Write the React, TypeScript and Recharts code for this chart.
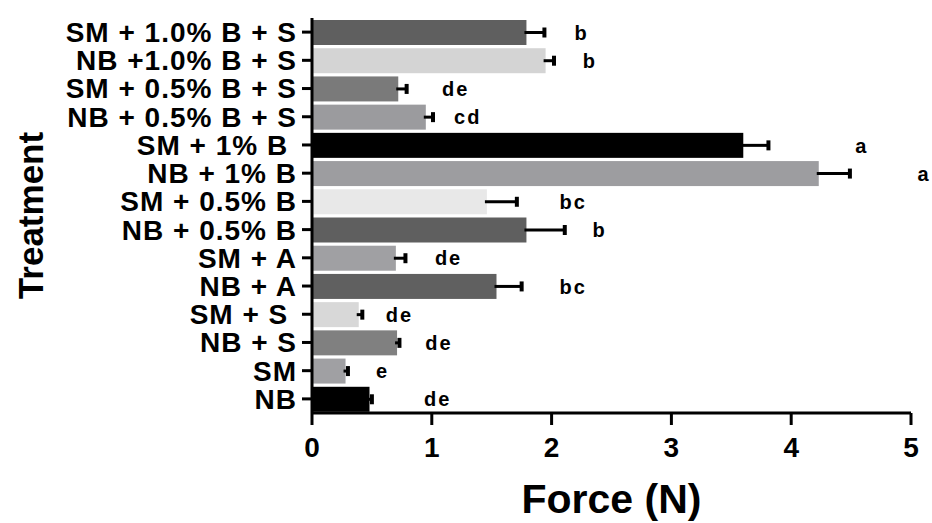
import { BarChart, Bar, XAxis, YAxis, ReferenceDot } from 'recharts';

const treatments = [
  'SM + 1.0% B + S',
  'NB +1.0% B + S',
  'SM + 0.5% B + S',
  'NB + 0.5% B + S',
  'SM + 1% B\u00a0',
  'NB + 1% B',
  'SM + 0.5% B',
  'NB + 0.5% B',
  'SM + A',
  'NB + A',
  'SM + S\u00a0',
  'NB + S',
  'SM',
  'NB',
];
const force = [1.79, 1.95, 0.72, 0.95, 3.6, 4.23, 1.46, 1.79, 0.7, 1.54, 0.39, 0.71, 0.28, 0.48];
const sem = [0.15, 0.07, 0.07, 0.06, 0.21, 0.26, 0.25, 0.32, 0.08, 0.21, 0.03, 0.02, 0.02, 0.02];
const letters = ['b', 'b', 'de', 'cd', 'a', 'a', 'bc', 'b', 'de', 'bc', 'de', 'de', 'e', 'de'];
// where each significance letter sits, in N
const letterX = [2.25, 2.32, 1.2, 1.3, 4.59, 5.11, 2.18, 2.4, 1.14, 2.18, 0.73, 1.06, 0.59, 1.05];
const xTicks = [0, 1, 2, 3, 4, 5];

const fills = [
  '#5f5f5f', '#d4d4d4', '#7a7a7a', '#9b9b9e', '#000000', '#9d9da0', '#e8e8e8',
  '#5f5f5f', '#a0a0a3', '#606060', '#d8d8d8', '#808080', '#a0a0a3', '#000000',
];

const data = treatments.map((name, i) => ({ name, force: force[i], sem: sem[i], fill: fills[i] }));

const FONT = '"Liberation Sans", Arial, sans-serif';

// bar + one-sided error whisker (GraphPad style)
function BarWithError(props: any) {
  const { x, y, width, height, payload } = props;
  const perUnit = payload.force > 0 ? width / payload.force : 0;
  const end = x + width + payload.sem * perUnit;
  const cy = y + height / 2;
  return (
    <g>
      <rect x={x} y={y} width={width} height={height} fill={payload.fill} />
      <line x1={x + width - 2} y1={cy} x2={end} y2={cy} stroke="#000" strokeWidth={3} />
      <line x1={end} y1={cy - 5} x2={end} y2={cy + 5} stroke="#000" strokeWidth={4} />
    </g>
  );
}

export default function App() {
  return (
    <div style={{ position: 'absolute', left: 0, top: 0, background: '#fff' }}>
      <BarChart
        width={932}
        height={523}
        data={data}
        layout="vertical"
        margin={{ top: 18, right: 21, bottom: 0, left: 0 }}
        barCategoryGap={0}
        style={{ fontFamily: FONT }}
      >
        <XAxis
          type="number"
          domain={[0, 5]}
          ticks={xTicks}
          height={110}
          axisLine={{ stroke: '#000', strokeWidth: 3 }}
          tickLine={{ stroke: '#000', strokeWidth: 3 }}
          tickSize={12}
          tickMargin={12}
          tick={{ fill: '#000', fontSize: 28, fontWeight: 'bold', fontFamily: FONT }}
          label={(p: any) => {
            const vb = p.viewBox;
            return (
              <text
                x={vb.x + vb.width / 2}
                y={vb.y + 100}
                textAnchor="middle"
                fontSize={41}
                fontWeight="bold"
                fontFamily={FONT}
                fill="#000"
              >
                Force (N)
              </text>
            );
          }}
        />
        <YAxis
          type="category"
          dataKey="name"
          width={312}
          interval={0}
          axisLine={{ stroke: '#000', strokeWidth: 3 }}
          tickLine={{ stroke: '#000', strokeWidth: 3 }}
          tickSize={10}
          tickMargin={5}
          tick={{ fill: '#000', fontSize: 28, fontWeight: 'bold', fontFamily: FONT, letterSpacing: 1 }}
          label={(p: any) => {
            const vb = p.viewBox;
            const cy = vb.y + vb.height / 2;
            return (
              <text
                x={43}
                y={cy}
                transform={`rotate(-90 43 ${cy})`}
                textAnchor="middle"
                fontSize={35}
                fontWeight="bold"
                fontFamily={FONT}
                fill="#000"
              >
                Treatment
              </text>
            );
          }}
        />
        <Bar dataKey="force" barSize={25} shape={BarWithError} isAnimationActive={false} />
        {treatments.map((t, i) => (
          <ReferenceDot
            key={t}
            x={letterX[i]}
            y={t}
            r={0}
            ifOverflow="visible"
            label={(p: any) => {
              const vb = p.viewBox;
              return (
                <text
                  x={vb.x + vb.width / 2}
                  y={vb.y + vb.height / 2}
                  dy="0.38em"
                  textAnchor="middle"
                  fontSize={20}
                  fontWeight="bold"
                  fontFamily={FONT}
                  letterSpacing={2}
                  fill="#000"
                >
                  {letters[i]}
                </text>
              );
            }}
          />
        ))}
      </BarChart>
    </div>
  );
}
